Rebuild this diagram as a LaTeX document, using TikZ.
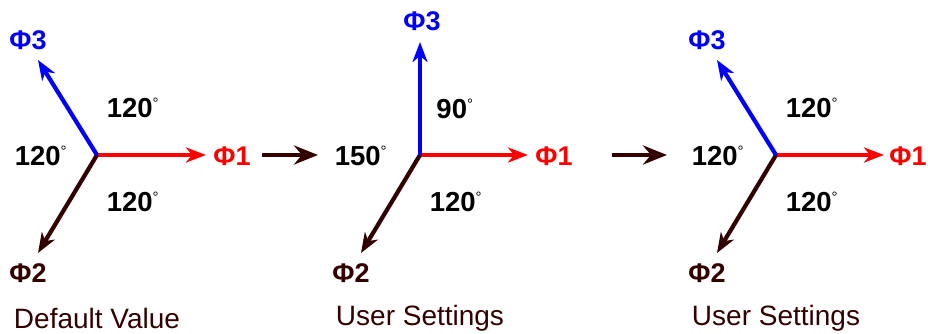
\documentclass[tikz,border=0pt]{standalone}
\usepackage{fontspec}
\setmainfont{Liberation Sans}
\usetikzlibrary{arrows.meta}
\definecolor{dbrown}{RGB}{51,0,0}
\definecolor{pred}{RGB}{255,0,0}
\definecolor{pblue}{RGB}{0,0,255}
\begin{document}
\begin{tikzpicture}[x=1pt,y=-1pt,
  vec/.style={line width=4.2pt,-{Stealth[length=20pt,width=15pt,inset=6pt]}},
  link/.style={line width=4.6pt,dbrown,-{Stealth[length=24pt,width=19pt,inset=8pt]}},
  ang/.style={font=\fontsize{27.5}{27.5}\selectfont\bfseries,text=black,inner sep=0pt},
  ph/.style={font=\fontsize{27}{27}\selectfont\bfseries,inner sep=0pt},
  captext/.style={font=\fontsize{28}{28}\selectfont,text=dbrown,inner sep=0pt}]
\useasboundingbox (0,0) rectangle (928,334);
\newcommand{\dg}{\textsuperscript{\normalfont\fontsize{15}{15}\selectfont °}}
% Diagram 1
\coordinate (c1) at (97,155);
\coordinate (a1) at (206,155);
\coordinate (b1) at (38,253);
\coordinate (d1) at (38,60);
\draw[vec,pred] (c1) -- (a1);
\draw[vec,dbrown] (c1) -- (b1);
\draw[vec,pblue] (c1) -- (d1);
\node[ph,text=pred] (p11) at (232,156) {Φ1};
\node[ph,text=dbrown] (p12) at (28,273) {Φ2};
\node[ph,text=pblue] (p13) at (28,40) {Φ3};
\node[ang] (t1a) at (133,108) {120\dg};
\node[ang] (t1b) at (41,156) {120\dg};
\node[ang] (t1c) at (133,202) {120\dg};
\node[captext] (cap1) at (97,318) {Default Value};
% connector 1->2
\coordinate (s1) at (262,155);
\coordinate (e1) at (318,155);
\draw[link] (s1) -- (e1);
% Diagram 2
\coordinate (c2) at (420,155);
\coordinate (a2) at (528,155);
\coordinate (b2) at (361,253);
\coordinate (d2) at (420,42);
\draw[vec,pred] (c2) -- (a2);
\draw[vec,dbrown] (c2) -- (b2);
\draw[vec,pblue] (c2) -- (d2);
\node[ph,text=pred] (p21) at (554,156) {Φ1};
\node[ph,text=dbrown] (p22) at (351,273) {Φ2};
\node[ph,text=pblue] (p23) at (422,21) {Φ3};
\node[ang] (t2a) at (455,109) {90\dg};
\node[ang] (t2b) at (361,156) {150\dg};
\node[ang] (t2c) at (456,202) {120\dg};
\node[captext] (cap2) at (420,318) {User Settings};
% connector 2->3
\coordinate (s2) at (612,155);
\coordinate (e2) at (667,155);
\draw[link] (s2) -- (e2);
% Diagram 3
\coordinate (c3) at (776,155);
\coordinate (a3) at (884,155);
\coordinate (b3) at (717,253);
\coordinate (d3) at (717,60);
\draw[vec,pred] (c3) -- (a3);
\draw[vec,dbrown] (c3) -- (b3);
\draw[vec,pblue] (c3) -- (d3);
\node[ph,text=pred] (p31) at (908,156) {Φ1};
\node[ph,text=dbrown] (p32) at (707,273) {Φ2};
\node[ph,text=pblue] (p33) at (707,40) {Φ3};
\node[ang] (t3a) at (812,108) {120\dg};
\node[ang] (t3b) at (718,156) {120\dg};
\node[ang] (t3c) at (812,202) {120\dg};
\node[captext] (cap3) at (776,318) {User Settings};
\end{tikzpicture}
\end{document}
